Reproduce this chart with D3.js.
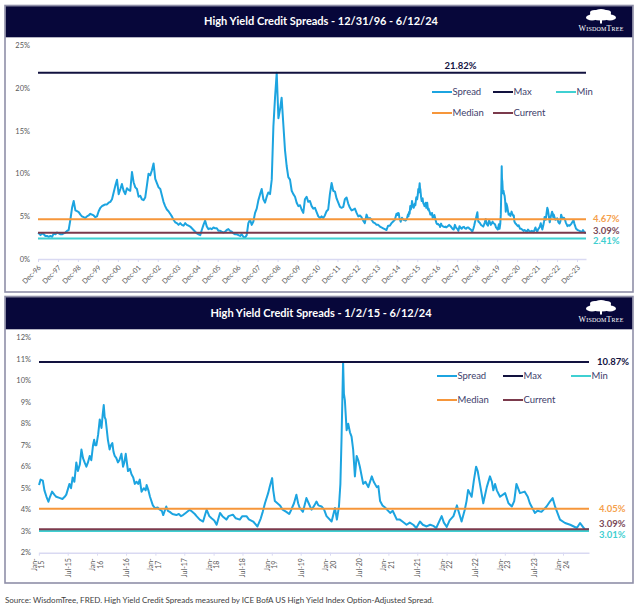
<!DOCTYPE html>
<html><head><meta charset="utf-8">
<script src="https://cdn.jsdelivr.net/npm/d3@7"></script>
<style>
body{margin:0;background:#fff;}
svg{display:block;font-family:Lato,"Open Sans",sans-serif;}
</style></head><body>
<svg id="c" width="640" height="609"></svg>
<script>
// ---------- DATA ----------
const startDate = "1996-12-31";
const startValue = 3.05;
// monthly spread (%) 1997-2014, one row per year, Jan..Dec
const histYears = [1997,1998,1999,2000,2001,2002,2003,2004,2005,2006,2007,2008,2009,2010,2011,2012,2013,2014];
const histValues = [
  [3.0,2.8,3.0,2.9,2.7,2.7,2.6,2.7,2.6,3.0,2.9,3.1],
  [3.0,2.9,2.9,3.0,3.1,3.3,3.4,4.6,6.0,6.8,5.7,5.6],
  [5.5,5.2,5.0,4.9,4.8,5.0,5.1,5.3,5.2,5.1,4.9,5.0],
  [5.6,6.0,6.2,6.3,6.4,6.4,6.6,6.7,7.0,7.8,8.6,9.3],
  [7.6,8.2,8.8,8.0,7.6,8.3,8.1,8.0,10.2,9.0,8.4,8.2],
  [7.3,7.4,7.0,6.9,7.2,8.6,10.0,9.8,10.4,11.2,9.4,8.9],
  [8.4,8.2,7.5,6.7,6.2,5.8,5.6,5.3,5.0,4.6,4.3,4.2],
  [4.0,4.2,4.0,3.9,4.2,4.0,3.9,3.8,3.6,3.4,3.2,3.0],
  [2.9,2.8,3.4,4.0,4.5,3.8,3.5,3.6,3.5,3.7,3.6,3.6],
  [3.3,3.3,3.2,3.1,3.2,3.4,3.5,3.3,3.2,3.0,2.9,2.9],
  [2.8,2.7,2.9,2.6,2.5,2.8,4.2,4.6,4.0,4.4,5.4,5.9],
  [6.9,7.6,8.2,7.0,6.6,7.3,7.8,7.6,9.3,15.5,19.0,21.82],
  [16.5,17.6,18.9,15.8,12.8,10.9,9.6,9.3,8.0,7.6,7.3,6.6],
  [6.2,6.3,5.8,5.4,7.0,7.3,6.7,6.8,6.2,5.9,6.0,5.5],
  [5.0,4.8,5.0,4.8,5.1,5.6,5.8,7.6,8.9,8.0,7.9,7.1],
  [6.6,6.1,6.0,6.1,7.0,7.2,6.5,6.0,5.7,5.8,5.9,5.4],
  [5.0,5.1,4.9,4.5,4.2,5.2,4.7,4.8,4.6,4.3,4.2,4.0],
  [4.0,3.8,3.7,3.6,3.5,3.4,3.9,3.9,4.2,4.4,4.6,5.3]
];
// 2015 - 6/12/24 spread (%)
const recentDates = ["2015-01-02","2015-01-12","2015-01-26","2015-02-05","2015-02-18","2015-03-02","2015-03-12","2015-03-25","2015-04-08","2015-04-20","2015-05-10","2015-05-29","2015-06-12","2015-06-22","2015-07-12","2015-07-22","2015-08-01","2015-08-12","2015-08-24","2015-09-03","2015-09-15","2015-09-25","2015-10-05","2015-10-15","2015-10-26","2015-11-05","2015-11-16","2015-11-26","2015-12-07","2015-12-14","2015-12-20","2015-12-28","2016-01-08","2016-01-18","2016-01-29","2016-02-05","2016-02-12","2016-02-18","2016-02-24","2016-03-09","2016-03-20","2016-03-28","2016-04-06","2016-04-13","2016-04-21","2016-05-01","2016-05-11","2016-05-20","2016-06-02","2016-06-12","2016-06-20","2016-06-29","2016-07-13","2016-07-25","2016-08-04","2016-08-15","2016-08-25","2016-09-05","2016-09-15","2016-09-25","2016-10-06","2016-10-20","2016-11-01","2016-11-07","2016-11-18","2016-11-28","2016-12-16","2016-12-29","2017-01-15","2017-01-29","2017-02-10","2017-02-19","2017-03-10","2017-03-20","2017-04-01","2017-04-18","2017-05-12","2017-05-28","2017-06-10","2017-06-23","2017-07-10","2017-08-04","2017-08-20","2017-09-05","2017-09-16","2017-10-06","2017-10-27","2017-11-18","2017-12-05","2017-12-19","2018-01-05","2018-01-20","2018-02-10","2018-02-25","2018-03-22","2018-04-05","2018-05-02","2018-05-20","2018-06-14","2018-06-30","2018-07-26","2018-08-10","2018-09-06","2018-10-03","2018-10-24","2018-11-05","2018-11-19","2018-12-09","2018-12-20","2019-01-03","2019-01-10","2019-01-20","2019-02-05","2019-02-21","2019-03-10","2019-04-02","2019-04-20","2019-05-03","2019-05-20","2019-06-04","2019-06-15","2019-06-25","2019-07-15","2019-08-06","2019-08-20","2019-09-07","2019-09-25","2019-10-08","2019-10-20","2019-11-09","2019-11-25","2019-12-10","2020-01-11","2020-02-01","2020-02-13","2020-02-26","2020-03-06","2020-03-13","2020-03-18","2020-03-23","2020-03-28","2020-04-03","2020-04-14","2020-04-24","2020-05-05","2020-05-15","2020-05-25","2020-06-05","2020-06-16","2020-06-26","2020-07-06","2020-07-27","2020-08-10","2020-08-28","2020-09-19","2020-10-01","2020-10-20","2020-10-30","2020-11-10","2020-11-25","2020-12-11","2021-01-12","2021-01-28","2021-02-23","2021-03-14","2021-03-30","2021-04-25","2021-05-15","2021-06-06","2021-06-25","2021-07-18","2021-08-05","2021-08-29","2021-09-20","2021-10-10","2021-10-28","2021-11-21","2021-12-01","2021-12-15","2022-01-02","2022-01-20","2022-02-13","2022-03-07","2022-03-14","2022-04-05","2022-04-25","2022-05-06","2022-05-16","2022-06-07","2022-06-21","2022-07-05","2022-07-15","2022-07-29","2022-08-19","2022-09-10","2022-09-30","2022-10-12","2022-10-21","2022-11-01","2022-11-12","2022-12-02","2023-01-03","2023-01-24","2023-02-14","2023-03-01","2023-03-15","2023-04-06","2023-05-06","2023-05-25","2023-06-07","2023-07-09","2023-07-25","2023-08-19","2023-09-20","2023-10-11","2023-10-28","2023-11-12","2023-12-13","2024-01-14","2024-02-15","2024-03-28","2024-04-17","2024-05-18","2024-06-12"];
const recentValues = [5.15,5.4,5.35,4.9,4.6,4.37,4.6,4.84,4.7,4.6,4.55,4.5,4.6,4.7,5.2,5.0,5.5,5.3,6.2,5.8,6.1,6.8,6.4,6.2,6.0,6.2,6.5,6.3,7.0,7.25,7.0,7.0,7.5,8.2,7.8,8.4,8.87,8.3,8.2,7.25,6.8,7.0,7.1,6.7,6.5,6.4,6.2,6.3,6.6,6.0,6.2,6.6,5.8,5.9,5.65,5.5,5.2,5.3,5.2,5.4,4.84,5.0,4.9,5.15,4.9,4.6,4.2,4.07,4.1,4.0,3.95,3.75,4.15,3.95,3.9,3.8,3.75,3.8,3.7,3.75,3.85,4.0,3.9,3.8,3.7,3.54,3.45,4.0,3.7,3.6,3.5,3.3,3.85,3.7,3.54,3.7,3.77,3.6,3.54,3.7,3.7,3.55,3.45,3.22,3.6,3.9,4.3,4.77,5.1,5.47,4.9,4.4,4.3,4.2,4.0,3.9,3.8,4.0,4.3,4.7,4.3,4.08,3.9,4.54,4.3,4.0,4.2,4.38,4.2,4.15,4.0,3.7,3.45,4.08,3.54,4.15,5.2,7.24,9.0,10.87,9.4,9.1,7.7,8.0,7.6,7.4,6.8,5.55,6.5,6.3,6.0,5.2,5.3,5.05,5.55,5.3,5.05,5.1,4.4,4.2,4.1,3.85,3.95,3.54,3.54,3.45,3.3,3.4,3.3,3.15,3.45,3.3,3.22,3.3,3.25,3.15,3.54,3.7,3.4,3.2,3.5,3.7,4.2,4.0,3.45,4.0,4.4,4.92,4.6,5.36,6.0,5.8,5.2,4.3,5.05,5.55,5.3,4.9,5.2,4.9,4.6,4.77,4.3,4.15,4.4,5.2,4.77,4.84,4.6,4.3,3.85,3.95,3.9,4.15,4.38,4.54,4.15,3.54,3.38,3.3,3.15,3.38,3.07,3.09];

const statNames = ["Max","Min","Median","Current"];
const stats1 = [21.82, 2.41, 4.67, 3.09];
const stats2 = [10.87, 3.01, 4.05, 3.09];
const legendNames = ["Spread","Max","Min","Median","Current"];
const yTicks1 = [0,5,10,15,20,25];
const yTicks2 = [2,3,4,5,6,7,8,9,10,11,12];
const titles = ["High Yield Credit Spreads - 12/31/96 - 6/12/24","High Yield Credit Spreads - 1/2/15 - 6/12/24"];
const sourceText = "Source: WisdomTree, FRED. High Yield Credit Spreads measured by ICE BofA US High Yield Index Option-Adjusted Spread.";

// ---------- STYLE ----------
const colors = {Spread:"#1ca4e0", Max:"#12123f", Min:"#3fd0d2", Median:"#f6963a", Current:"#7b3a4c"};
const labelColors = {Max:"#12123f", Min:"#3fcfd1", Median:"#f5a04c", Current:"#7a4a58"};
const navy = "#07073a";
const parse = d3.timeParse("%Y-%m-%d");

const hist = [{date: parse(startDate), v: startValue}];
histYears.forEach((y,i)=>histValues[i].forEach((v,m)=>hist.push({date:new Date(y,m,15), v})));
const recent = recentDates.map((d,i)=>({date: parse(d), v: recentValues[i]}));
const series1 = hist.concat(recent);
const series2 = recent;

const svg = d3.select("#c");

function logo(g, cx, cy){
  const t = g.append("g").attr("fill","#fff");
  [[-9,1,6,3],[-4,-2,7,4],[3,-2,7,4],[9,1,6,3],[0,0,11,4],[-6,-4,5,2.5],[5,-4,5,2.5],[0,-5,6,2.5]].forEach(e=>{
    t.append("ellipse").attr("cx",cx+e[0]).attr("cy",cy+e[1]).attr("rx",e[2]).attr("ry",e[3]);
  });
  t.append("rect").attr("x",cx-1).attr("y",cy+2).attr("width",2).attr("height",5);
  g.append("text").attr("x",cx).attr("y",cy+14).attr("text-anchor","middle")
    .attr("fill","#fff").attr("font-family","'Liberation Serif','DejaVu Serif',serif")
    .attr("font-size",8).style("font-variant","small-caps").style("letter-spacing","0.2px").text("WisdomTree");
}

function panel(cfg){
  const g = svg.append("g");
  // frame + header
  g.append("rect").attr("x",5).attr("y",cfg.top).attr("width",628).attr("height",cfg.bottom-cfg.top)
    .attr("fill","#fff").attr("stroke","#8f8fa8").attr("stroke-width",1.6);
  g.append("rect").attr("x",5.8).attr("y",cfg.top+0.8).attr("width",626.4).attr("height",cfg.headH)
    .attr("fill",navy);
  g.append("text").attr("x",321).attr("y",cfg.top+cfg.headH/2+4).attr("text-anchor","middle")
    .attr("fill","#fff").attr("font-weight",700).attr("font-size",11).text(cfg.title);
  logo(g, 601, cfg.top+11);

  const x = d3.scaleTime().domain(cfg.xDomain).range(cfg.xRange);
  const y = d3.scaleLinear().domain(cfg.yDomain).range(cfg.yRange);

  // y labels
  g.selectAll(".yl").data(cfg.yTicks).join("text")
    .attr("x",cfg.yLabX).attr("y",d=>y(d)+2.5).attr("text-anchor","end")
    .attr("font-size",7.5).attr("fill","#595959").text(d=>d+"%");

  // x axis
  const ax = g.append("g").attr("transform",`translate(0,${cfg.yRange[0]})`)
    .call(d3.axisBottom(x).tickValues(cfg.xTicks).tickSize(3).tickSizeOuter(0).tickFormat(cfg.xFmt));
  ax.select(".domain").attr("stroke","#d9d9f2").attr("stroke-width",1.5);
  ax.selectAll(".tick line").attr("stroke","#d9d9f2").attr("stroke-width",1);
  ax.selectAll(".tick text").attr("fill","#595959").attr("font-size",7).attr("font-family","Lato,sans-serif");
  cfg.styleTicks(ax);

  // spread line
  const line = d3.line().x(d=>x(d.date)).y(d=>y(d.v));
  g.append("path").datum(cfg.series).attr("d",line).attr("fill","none")
    .attr("stroke",colors.Spread).attr("stroke-width",2).attr("stroke-linejoin","round");

  // reference lines
  statNames.forEach((n,i)=>{
    const v = cfg.stats[i];
    g.append("line").attr("x1",cfg.xRange[0]).attr("x2",cfg.xRange[1]).attr("y1",y(v)).attr("y2",y(v))
      .attr("stroke",colors[n]).attr("stroke-width",2);
  });
  // value labels
  statNames.forEach((n,i)=>{
    const v = cfg.stats[i];
    const p = cfg.labelPos[n];
    g.append("text").attr("x",p[0]).attr("y",y(v)+p[1]).attr("text-anchor",p[2])
      .attr("font-weight",700).attr("font-size",9.5).attr("fill",labelColors[n]).text(v.toFixed(2)+"%");
  });

  // legend
  legendNames.forEach((n,i)=>{
    const p = cfg.legendPos[i];
    g.append("line").attr("x1",p[0]).attr("x2",p[0]+20).attr("y1",p[1]).attr("y2",p[1])
      .attr("stroke",colors[n]).attr("stroke-width",2);
    g.append("text").attr("x",p[0]+20.5).attr("y",p[1]+3.3).attr("font-size",9.5)
      .attr("fill","#3d3d6b").text(n);
  });
}

// Panel 1
const p1Ticks = d3.range(1996,2024).map(yr=>new Date(yr,11,31));
panel({
  top:5.5, bottom:292, headH:31, title:titles[0],
  xDomain:[parse("1996-12-31"), parse("2024-06-12")], xRange:[38,586],
  yDomain:[0,25], yRange:[259,45.7], yTicks:yTicks1, yLabX:30,
  xTicks:p1Ticks, xFmt:d3.timeFormat("%b-%y"),
  styleTicks: ax=>ax.selectAll(".tick text").attr("x",0).attr("y",0).attr("dy",0)
     .attr("text-anchor","end").attr("transform","translate(3,9) rotate(-45)"),
  series:series1, stats:stats1,
  labelPos:{Max:[460.5,-3.5,"middle"], Median:[593,3.3,"start"], Current:[593,1,"start"], Min:[593,5.8,"start"]},
  legendPos:[[432,92],[493,92],[556,92],[432,113],[493,113]]
});

// Panel 2
const p2Ticks = d3.timeMonth.every(6).range(new Date(2015,0,1), new Date(2024,1,1));
panel({
  top:296.5, bottom:583, headH:32, title:titles[1],
  xDomain:[parse("2015-01-02"), parse("2024-06-12")], xRange:[39,589],
  yDomain:[2,12], yRange:[552.7,337.7], yTicks:yTicks2, yLabX:31,
  xTicks:p2Ticks, xFmt:d3.timeFormat("%b-%y"),
  styleTicks: ax=>{
    ax.selectAll(".tick text").each(function(d){
      const t = d3.select(this).text("").attr("x",0).attr("y",0).attr("dy",0).attr("text-anchor","middle");
      const yy = d3.timeFormat("%y")(d);
      if(d.getMonth()===0){
        t.attr("transform","translate(0,12) rotate(-90)");
        t.append("tspan").attr("x",0).attr("y",-2.5).text("Jan-");
        t.append("tspan").attr("x",0).attr("y",5).text(yy);
      } else {
        t.attr("transform","translate(0,15) rotate(-90)");
        t.append("tspan").attr("x",0).attr("y",2.5).text("Jul-"+yy);
      }
    });
  },
  series:series2, stats:stats2,
  labelPos:{Max:[597,3.3,"start"], Median:[599,3.5,"start"], Current:[599,-2,"start"], Min:[599,7.5,"start"]},
  legendPos:[[437,376],[503,376],[571,376],[437,400],[503,400]]
});

svg.append("text").attr("x",5).attr("y",603).attr("font-size",8).attr("fill","#404040").text(sourceText);
</script>
</body></html>
